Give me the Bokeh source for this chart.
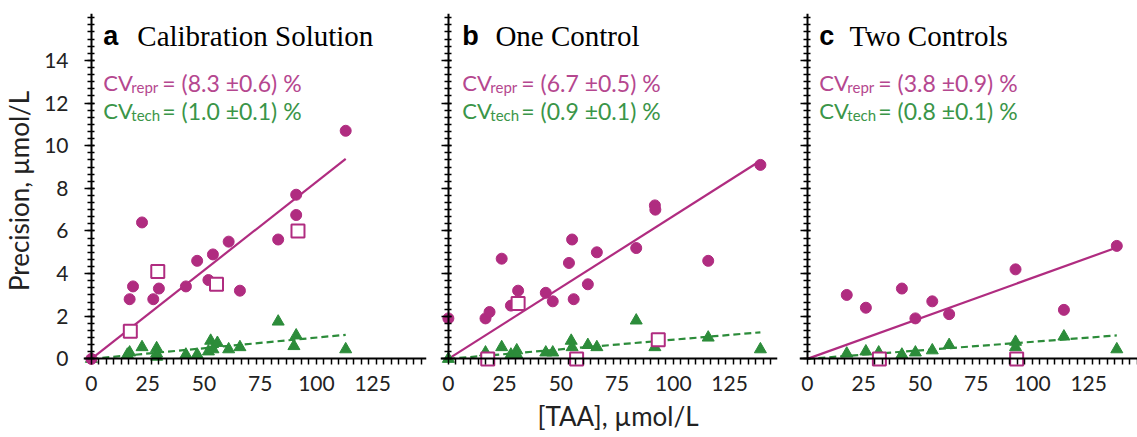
from bokeh.plotting import figure
from bokeh.models import Range1d, FixedTicker, Label, LinearAxis, Title
from bokeh.layouts import row
from bokeh.embed import file_html
from bokeh.resources import INLINE

# ---------------- data ----------------
panel_letters = ["a", "b", "c"]
panel_titles = ["Calibration Solution", "One Control", "Two Controls"]

cv_repr = [8.3, 6.7, 3.8]
cv_repr_err = [0.6, 0.5, 0.9]
cv_tech = [1.0, 0.9, 0.8]
cv_tech_err = [0.1, 0.1, 0.1]

# panel a : calibration solution
a_circ_x = [0, 17, 18.5, 22.5, 27.5, 30, 42, 47, 52, 54, 61, 66, 83, 91, 91, 113]
a_circ_y = [0, 2.8, 3.4, 6.4, 2.8, 3.3, 3.4, 4.6, 3.7, 4.9, 5.5, 3.2, 5.6, 7.7, 6.75, 10.7]
a_sq_x = [17.3, 29.5, 55.6, 91.8]
a_sq_y = [1.3, 4.1, 3.5, 6.0]
a_tri_x = [0, 16, 17, 22.5, 29, 29, 29, 42, 47, 52, 53, 54, 56, 61, 66, 83, 90, 91, 113]
a_tri_y = [0, 0.2, 0.3, 0.55, 0.5, 0.25, 0.1, 0.2, 0.2, 0.35, 0.85, 0.45, 0.75, 0.45, 0.55, 1.75, 0.6, 1.1, 0.45]

# panel b : one control
b_circ_x = [0, 16.5, 18.3, 23.7, 27.8, 31, 43.3, 46.4, 53.6, 55, 55.7, 62, 66, 83.5, 91.8, 92, 115.5, 138.7]
b_circ_y = [1.9, 1.9, 2.2, 4.7, 2.5, 3.2, 3.1, 2.7, 4.5, 5.6, 2.8, 3.5, 5.0, 5.2, 7.2, 7.0, 4.6, 9.1]
b_sq_x = [17.5, 31, 57, 93.3]
b_sq_y = [0, 2.6, 0, 0.9]
b_tri_x = [0, 16.5, 23.7, 27.8, 30.4, 30.4, 43.3, 46.4, 54.6, 55, 62, 66, 83.5, 91.8, 115.5, 138.7]
b_tri_y = [0, 0.3, 0.55, 0.2, 0.4, 0.2, 0.3, 0.3, 0.85, 0.55, 0.65, 0.55, 1.8, 0.55, 1.0, 0.45]

# panel c : two controls
c_circ_x = [17.5, 26, 42, 48, 55.5, 63, 92.5, 114, 137.5]
c_circ_y = [3.0, 2.4, 3.3, 1.9, 2.7, 2.1, 4.2, 2.3, 5.3]
c_sq_x = [32, 93]
c_sq_y = [0, 0]
c_tri_x = [17.5, 26, 31.7, 42, 48, 55.5, 63, 92.5, 92.5, 114, 137.5]
c_tri_y = [0.25, 0.35, 0.3, 0.2, 0.3, 0.4, 0.65, 0.8, 0.55, 1.05, 0.45]

x_tick_values = [0, 25, 50, 75, 100, 125]
y_tick_values = [0, 2, 4, 6, 8, 10, 12, 14]

x_axis_label = "[TAA], µmol/L"
y_axis_label = "Precision, µmol/L"

# ---------------- style ----------------
MAG = "#B02C80"
MAG_TXT = "#B5478F"
GRN = "#2C8C3A"
GRN_TXT = "#3A9548"
FONT = "Lato"
Y0, Y1 = -0.45, 16.2

panels = [
    dict(cx=a_circ_x, cy=a_circ_y, sx=a_sq_x, sy=a_sq_y, tx=a_tri_x, ty=a_tri_y,
         xr=(-3.5, 148.9), bl=83, fw=343, br=6, title_x=(5.3, 20.4), cv_x=5.3),
    dict(cx=b_circ_x, cy=b_circ_y, sx=b_sq_x, sy=b_sq_y, tx=b_tri_x, ty=b_tri_y,
         xr=(-3.5, 146.3), bl=8, fw=337, br=12, title_x=(6.2, 20.9), cv_x=6.2),
    dict(cx=c_circ_x, cy=c_circ_y, sx=c_sq_x, sy=c_sq_y, tx=c_tri_x, ty=c_tri_y,
         xr=(-3.5, 146.7), bl=10, fw=338, br=0, title_x=(5.3, 18.7), cv_x=5.3),
]

x_minor = [i * 10 / 3 for i in range(0, 46)]
y_minor = [i / 3 for i in range(0, 49)]


def style_label_axis(ax):
    ax.axis_line_color = None
    ax.major_tick_out = 0
    ax.major_tick_in = 0
    ax.minor_tick_out = 0
    ax.minor_tick_in = 0
    ax.major_label_text_font = FONT
    ax.major_label_text_font_size = "21px"
    ax.major_label_text_color = "#222222"
    ax.axis_label_text_font = FONT
    ax.axis_label_text_font_size = "26px"
    ax.axis_label_text_font_style = "normal"
    ax.axis_label_text_color = "#222222"


def tick_axis(minor, t_out, t_in, bounds="auto", line=True):
    # axis with no major ticks (so no tick labels); the marks come from minor ticks
    ax = LinearAxis(fixed_location=0, bounds=bounds,
                    ticker=FixedTicker(ticks=[], minor_ticks=minor))
    ax.axis_line_width = 2
    ax.axis_line_color = "black" if line else None
    ax.major_tick_line_color = None
    ax.minor_tick_line_color = "black"
    ax.minor_tick_line_width = 1.5
    ax.minor_tick_out = t_out
    ax.minor_tick_in = t_in
    return ax


figs = []
for k, pd_ in enumerate(panels):
    p = figure(frame_width=pd_["fw"], frame_height=355,
               min_border_left=pd_["bl"], min_border_right=pd_["br"],
               min_border_top=13, min_border_bottom=69,
               x_range=Range1d(*pd_["xr"]), y_range=Range1d(Y0, Y1),
               y_axis_location="left" if k == 0 else None,
               output_backend="svg", toolbar_location=None)
    p.outline_line_color = None
    p.grid.visible = False
    p.background_fill_color = "white"
    p.border_fill_color = "white"

    # label-only axes at the frame edges
    xa = p.below[0]
    xa.ticker = FixedTicker(ticks=x_tick_values, minor_ticks=[])
    style_label_axis(xa)
    xa.major_label_standoff = 7
    if k == 1:
        p.add_layout(Title(text=x_axis_label, align="left", offset=97, standoff=9,
                           text_font=FONT, text_font_size="26px", text_font_style="normal",
                           text_color="#222222"), "below")
    if k == 0:
        ya = p.left[0]
        ya.ticker = FixedTicker(ticks=y_tick_values, minor_ticks=[])
        style_label_axis(ya)
        ya.major_label_standoff = 15
        ya.axis_label = y_axis_label
        ya.axis_label_standoff = 6

    # axis lines crossing at the origin (with tick marks)
    p.add_layout(tick_axis([m for m in x_minor if m <= pd_["xr"][1]], 6, 0), "below")
    p.add_layout(tick_axis(y_minor, 4, 3, bounds=(0, Y1)), "left")
    p.add_layout(tick_axis(y_tick_values, 7, 3, bounds=(0, Y1), line=False), "left")

    # fit lines (y = CV * x)
    xmax_c = max(pd_["cx"] + pd_["sx"])
    xmax_t = max(pd_["tx"])
    p.line([0, xmax_t], [0, cv_tech[k] / 100 * xmax_t], line_color=GRN, line_width=2.2, line_dash="7 4")
    p.line([0, xmax_c], [0, cv_repr[k] / 100 * xmax_c], line_color=MAG, line_width=2.2)

    p.scatter(pd_["tx"], pd_["ty"], marker="triangle", size=12, fill_color=GRN, line_color=GRN)
    p.scatter(pd_["cx"], pd_["cy"], marker="circle", size=11, fill_color=MAG, line_color=MAG)
    p.scatter(pd_["sx"], pd_["sy"], marker="square", size=13, fill_color="white", line_color=MAG, line_width=2)

    # titles
    p.add_layout(Label(x=pd_["title_x"][0], y=15.15, text=panel_letters[k], text_font="Liberation Sans",
                       text_font_style="bold", text_font_size="27px", text_color="black",
                       text_baseline="alphabetic"))
    p.add_layout(Label(x=pd_["title_x"][1], y=15.15, text=panel_titles[k], text_font="Liberation Serif",
                       text_font_size="29px", text_color="black", text_baseline="alphabetic"))

    # CV annotations
    for (yv, sub, val, err, col) in [(12.95, "repr", cv_repr[k], cv_repr_err[k], MAG_TXT),
                                     (11.63, "tech", cv_tech[k], cv_tech_err[k], GRN_TXT)]:
        p.add_layout(Label(x=pd_["cv_x"], y=yv, text="CV", text_font=FONT, text_font_size="22px",
                           text_color=col, text_baseline="alphabetic"))
        p.add_layout(Label(x=pd_["cv_x"], y=yv, x_offset=28, y_offset=-4, text=sub, text_font=FONT,
                           text_font_size="15px", text_color=col, text_baseline="alphabetic"))
        p.add_layout(Label(x=pd_["cv_x"], y=yv, x_offset=59, text=f"= ({val:.1f} ±{err:.1f}) %",
                           text_font=FONT, text_font_size="23px", text_color=col,
                           text_baseline="alphabetic"))
    figs.append(p)

layout = row(*figs)
open("out.html", "w").write(file_html(layout, INLINE))
